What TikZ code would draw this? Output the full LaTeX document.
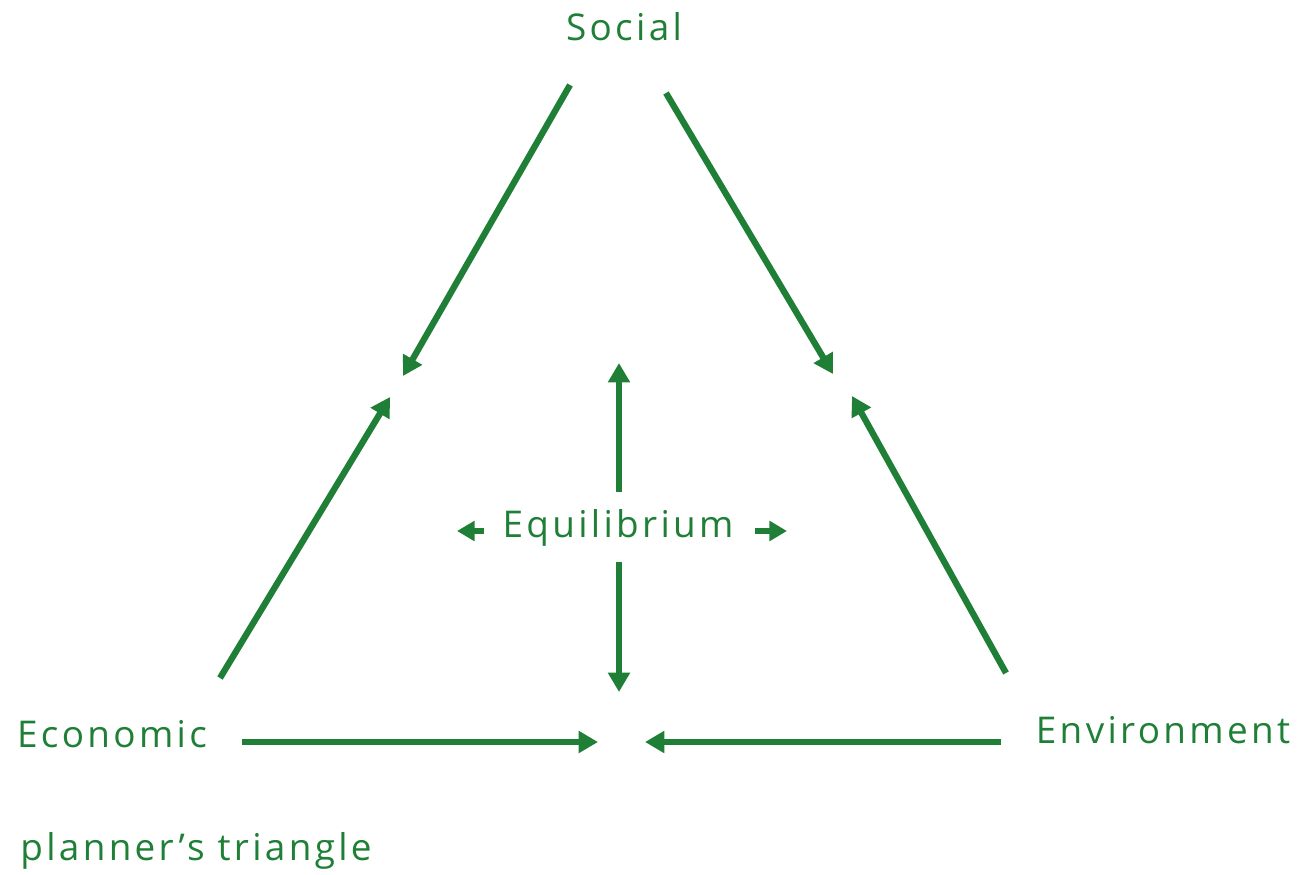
\documentclass[tikz,border=0pt]{standalone}
\usepackage{fontspec}
\setmainfont[LetterSpace=9]{Open Sans}
\usetikzlibrary{arrows.meta,positioning}
\definecolor{planGreen}{RGB}{31,127,55}

\begin{document}
\begin{tikzpicture}[x=0.02cm,y=-0.02cm,
  lbl/.style={text=planGreen,font=\fontsize{21}{25}\selectfont,inner sep=0pt},
  arr/.style={-{Triangle[length=11pt,width=12pt]},draw=planGreen,line width=3.6pt},
  sarr/.style={-{Triangle[length=10pt,width=11pt]},draw=planGreen,line width=3.6pt}
]
  \useasboundingbox (0,0) rectangle (1301,875);

  % Labels
  \node[lbl] (social) at (624,27)  {Social};
  \node[lbl] (econ)   at (112,734) {Economic};
  \node[lbl] (env)    at (1163,730) {Environment};
  \node[lbl] (equi)   at (618,528) {Equilibrium};
  \node[lbl,anchor=west] (title) at (20,851) {planner’s triangle};

  % Free ends
  \coordinate (s1) at (570,85);
  \coordinate (s2) at (666,93);
  \coordinate (sl) at (403,376);
  \coordinate (sr) at (833,374);
  \coordinate (e1) at (220,678);
  \coordinate (el) at (390,397);
  \coordinate (v1) at (1006,673);
  \coordinate (vr) at (852,396);
  \coordinate (e2) at (242,742);
  \coordinate (eb) at (598,742);
  \coordinate (v2) at (1001,742);
  \coordinate (vb) at (645,742);
  \coordinate (q1) at (619,492);
  \coordinate (qt) at (619,363);
  \coordinate (q2) at (619,562);
  \coordinate (qb) at (619,692);
  \coordinate (q3) at (484,531);
  \coordinate (ql) at (457,531);
  \coordinate (q4) at (755,531);
  \coordinate (qr) at (787,531);

  % Sides
  \draw[arr] (s1) -- (sl);
  \draw[arr] (s2) -- (sr);
  \draw[arr] (e1) -- (el);
  \draw[arr] (v1) -- (vr);
  \draw[arr] (e2) -- (eb);
  \draw[arr] (v2) -- (vb);

  % Equilibrium
  \draw[arr] (q1) -- (qt);
  \draw[arr] (q2) -- (qb);
  \draw[sarr] (q3) -- (ql);
  \draw[sarr] (q4) -- (qr);
\end{tikzpicture}
\end{document}
